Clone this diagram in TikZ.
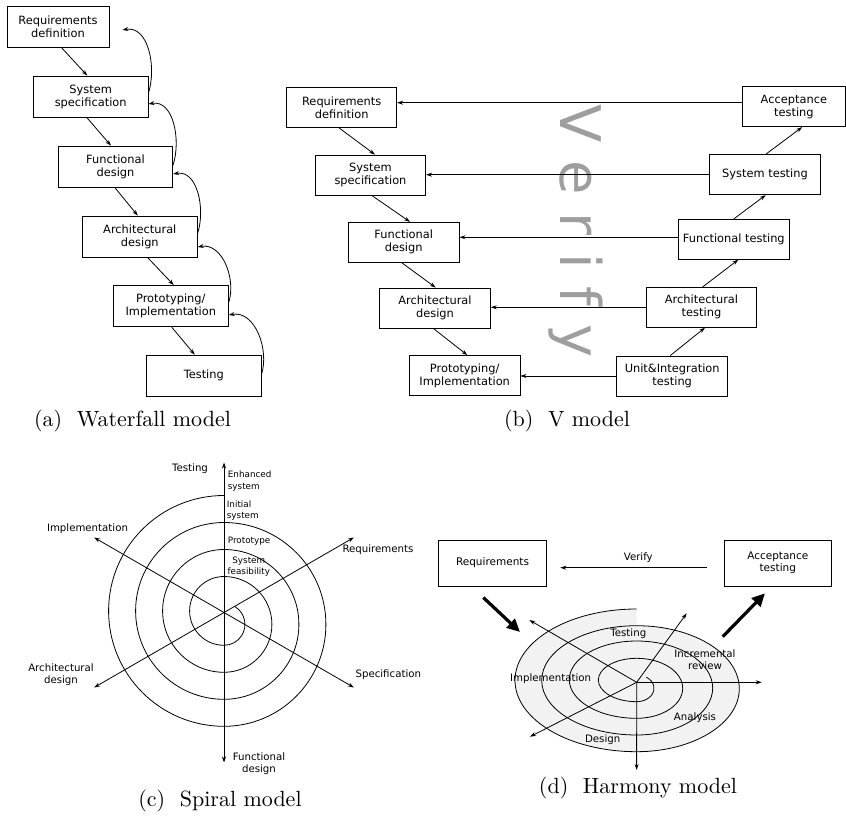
\documentclass[tikz,border=0pt]{standalone}
\usepackage{fontspec}
\newfontfamily\dvs{DejaVu Sans}
\usetikzlibrary{arrows.meta,calc}
\begin{document}
\begin{tikzpicture}[x=1pt,y=-1pt,line width=0.8pt,
  lab/.style={font=\dvs\fontsize{11.4}{12.9}\selectfont, align=center, inner sep=0pt},
  wbox/.style={draw, lab, minimum height=41.3pt},
  vbox/.style={draw, lab, minimum height=40pt},
  hbox/.style={draw, font=\dvs\fontsize{10.5}{12.3}\selectfont, align=center, inner sep=0pt, minimum height=46pt},
  arr/.style={-{Stealth[length=6pt,width=4pt]}},
  slab/.style={font=\dvs\fontsize{10.2}{12.2}\selectfont, align=center, inner sep=0pt},
  tlab/.style={font=\dvs\fontsize{8.8}{11.7}\selectfont, align=left, inner sep=0pt, anchor=west},
  captext/.style={inner sep=0pt, anchor=base},
  bigarr/.style={line width=3.2pt, -{Triangle[length=13pt,width=12pt]}},
]
\useasboundingbox (0,0) rectangle (846,816);
\newcommand{\capt}[1]{\scalebox{2.2}{\fontsize{10}{12}\selectfont #1}}

% ---------------- (a) Waterfall model ----------------
\node[wbox, minimum width=102pt]   (wa1) at (58,26.8)    {Requirements\\definition};
\node[wbox, minimum width=114.7pt] (wa2) at (90.7,96.7)  {System\\specification};
\node[wbox, minimum width=114.4pt] (wa3) at (115.5,166.7) {Functional\\design};
\node[wbox, minimum width=115pt]   (wa4) at (139.8,236.7) {Architectural\\design};
\node[wbox, minimum width=115pt]   (wa5) at (170.8,306.2) {Prototyping/\\Implementation};
\node[wbox, minimum width=114.3pt] (wa6) at (203.8,375.8) {Testing};

\draw[arr] ([xshift=3.7pt]wa1.south)  -- ([xshift=-3.4pt]wa2.north);
\draw[arr] ([xshift=-3.7pt]wa2.south) -- ([xshift=-4.5pt]wa3.north);
\draw[arr] ([xshift=-0.5pt]wa3.south) -- ([xshift=-2pt]wa4.north);
\draw[arr] ([xshift=8pt]wa4.south)    -- ([xshift=3pt]wa5.north);
\draw[arr] ([xshift=1pt]wa5.south)    -- ([xshift=-9pt]wa6.north);

\draw[arr] ([yshift=3.7pt]wa2.east) to[out=72,in=10] ([xshift=13pt,yshift=-3.2pt]wa1.east);
\draw[arr] ([yshift=1.7pt]wa3.east) to[out=72,in=10] ([yshift=-7.3pt]wa2.east);
\draw[arr] ([yshift=3.7pt]wa4.east) to[out=72,in=10] ([yshift=-7.3pt]wa3.east);
\draw[arr] ([yshift=3.7pt]wa5.east) to[out=72,in=10] ([yshift=-10.3pt]wa4.east);
\draw[arr] ([yshift=0.8pt]wa6.east) to[out=72,in=10] ([yshift=-8.8pt]wa5.east);

\node[captext] (capa) at (132.5,426.5) {\capt{(a)\ \ Waterfall model}};

% ---------------- (b) V model ----------------
\node[inner sep=0pt, anchor=base west, rotate=-90, text=black!38,
      font=\dvs\fontsize{56}{60}\selectfont] (vtxt) at (560,104) {V e r i f y};

\node[vbox, minimum width=110pt]   (vb1) at (341.7,107.7) {Requirements\\definition};
\node[vbox, minimum width=110.4pt] (vb2) at (370.5,175)   {System\\specification};
\node[vbox, minimum width=110.7pt] (vb3) at (403.7,242.3) {Functional\\design};
\node[vbox, minimum width=110.6pt] (vb4) at (435,308)     {Architectural\\design};
\node[vbox, minimum width=110.7pt] (vb5) at (464.7,375.5) {Prototyping/\\Implementation};

\node[vbox, minimum width=102.3pt] (vr1) at (793.9,106.7) {Acceptance\\testing};
\node[vbox, minimum width=110.7pt] (vr2) at (765,174.7)   {System testing};
\node[vbox, minimum width=111pt]   (vr3) at (733.8,239.3) {Functional testing};
\node[vbox, minimum width=110.4pt] (vr4) at (701.5,307.3) {Architectural\\testing};
\node[vbox, minimum width=111pt]   (vr5) at (672.2,376)   {Unit\&Integration\\testing};

\draw[arr] ([xshift=-2.4pt]vb1.south) -- ([xshift=4.5pt]vb2.north);
\draw[arr] ([xshift=1.2pt]vb2.south)  -- ([xshift=6.3pt]vb3.north);
\draw[arr] ([xshift=-2pt]vb3.south)   -- ([xshift=0.7pt]vb4.north);
\draw[arr] ([xshift=-1.7pt]vb4.south) -- ([xshift=2.6pt]vb5.north);

\draw[arr] ([xshift=-2pt]vr5.north)   -- ([xshift=3.5pt]vr4.south);
\draw[arr] ([xshift=1.2pt]vr4.north)  -- ([xshift=4.5pt]vr3.south);
\draw[arr] (vr3.north)                -- ([xshift=0.7pt]vr2.south);
\draw[arr] ([xshift=0.7pt]vr2.north)  -- ([xshift=8.3pt]vr1.south);

\coordinate (h1) at ([yshift=4pt]vr1.west);
\coordinate (h2) at (vr2.west);
\coordinate (h3) at ([yshift=2pt]vr3.west);
\coordinate (h4) at (vr4.west);
\coordinate (h5) at (vr5.west);
\draw[arr] (h1) -- (h1 -| vb1.east);
\draw[arr] (h2) -- (h2 -| vb2.east);
\draw[arr] (h3) -- (h3 -| vb3.east);
\draw[arr] (h4) -- (h4 -| vb4.east);
\draw[arr] (h5) -- (h5 -| vb5.east);

\node[captext] (capb) at (567,426.5) {\capt{(b)\ \ V model}};

% ---------------- (c) Spiral model ----------------
\coordinate (C) at (224,612.5);
\draw ($(224,624.4)+(58:20.9pt)$)
  arc[start angle=58, end angle=-90, radius=20.9pt]
  arc[start angle=270,end angle=90,  radius=34.4pt]
  arc[start angle=90, end angle=-90, radius=47.9pt]
  arc[start angle=270,end angle=90,  radius=61.4pt]
  arc[start angle=90, end angle=-90, radius=74.9pt]
  arc[start angle=270,end angle=90,  radius=88.4pt]
  arc[start angle=90, end angle=-90, radius=101.9pt]
  arc[start angle=270,end angle=90,  radius=115.4pt];
\foreach \a/\n in {90/cu,30/cur,-30/cdr,-90/cd,150/cul,210/cdl}
  \coordinate (\n) at ($(C)+(\a:150pt)$);
\foreach \n in {cu,cur,cdr,cd,cul,cdl}
  \draw[arr] (C) -- (\n);

\node[slab] (ct)  at (190,469)    {Testing};
\node[tlab] (ce)  at (227.5,481)  {Enhanced\\system};
\node[tlab] (ci)  at (226.5,510.5){Initial\\system};
\node[tlab] (cp)  at (227.5,541.7){Prototype};
\node[font=\dvs\fontsize{8.8}{10.7}\selectfont, align=center, inner sep=0pt] (cf) at (248.8,566.3) {System\\feasibility};
\node[slab] (cim) at (87.5,528.3) {Implementation};
\node[slab] (crq) at (378,550)    {Requirements};
\node[slab] (car) at (61,674.5)   {Architectural\\design};
\node[slab] (csp) at (388.3,674.3){Specification};
\node[slab] (cfd) at (259,763.5)  {Functional\\design};

\node[captext] (capc) at (220,806.5) {\capt{(c)\ \ Spiral model}};

% ---------------- (d) Harmony model ----------------
\fill[black!5] (636.7,625.7)
  arc[start angle=90, end angle=-90, x radius=102.6pt, y radius=63pt]
  arc[start angle=270,end angle=90,  x radius=121.7pt, y radius=71.35pt] -- cycle;
\draw ($(636.7,688.3)+(56:17.3pt and 13.4pt)$)
  arc[start angle=56, end angle=-90, x radius=17.3pt,  y radius=13.4pt]
  arc[start angle=270,end angle=90,  x radius=38.4pt,  y radius=21.7pt]
  arc[start angle=90, end angle=-90, x radius=46pt,    y radius=30pt]
  arc[start angle=270,end angle=90,  x radius=67.4pt,  y radius=38.65pt]
  arc[start angle=90, end angle=-90, x radius=76pt,    y radius=47pt]
  arc[start angle=270,end angle=90,  x radius=95pt,    y radius=54.65pt]
  arc[start angle=90, end angle=-90, x radius=102.6pt, y radius=63pt]
  arc[start angle=270,end angle=90,  x radius=121.7pt, y radius=71.35pt];

\coordinate (O)   at (636.7,682.3);
\coordinate (dd)  at (636.6,770);
\coordinate (dr)  at (761.7,682.3);
\coordinate (dul) at (529.3,620);
\coordinate (ddl) at (530,736.7);
\coordinate (dur) at (686.7,613.3);
\foreach \n in {dd,dr,dul,ddl,dur}
  \draw[arr] (O) -- (\n);

\node[hbox, minimum width=108.3pt] (hreq) at (492.5,563) {Requirements};
\node[hbox, minimum width=107.7pt] (hacc) at (777.8,563) {Acceptance\\testing};
\draw[arr, shorten <=16.7pt, shorten >=13.3pt] ([yshift=-4.7pt]hacc.west) -- ([yshift=-4.7pt]hreq.east);
\node[slab] (hver) at (638.3,557.3) {Verify};

\coordinate (ta1) at (483.3,597.5);
\coordinate (ta2) at (520,632);
\coordinate (tb1) at (722.7,636.7);
\coordinate (tb2) at (765,593.3);
\draw[bigarr] (ta1) -- (ta2);
\draw[bigarr] (tb1) -- (tb2);

\node[slab] (dte) at (628.3,633.3) {Testing};
\node[slab] (din) at (705,660)     {Incremental\\review};
\node[slab] (dim) at (550.7,679)   {Implementation};
\node[slab] (dan) at (695,717.7)   {Analysis};
\node[slab] (dde) at (602.7,740)   {Design};

\node[captext] (capd) at (638,793) {\capt{(d)\ \ Harmony model}};
\end{tikzpicture}
\end{document}
